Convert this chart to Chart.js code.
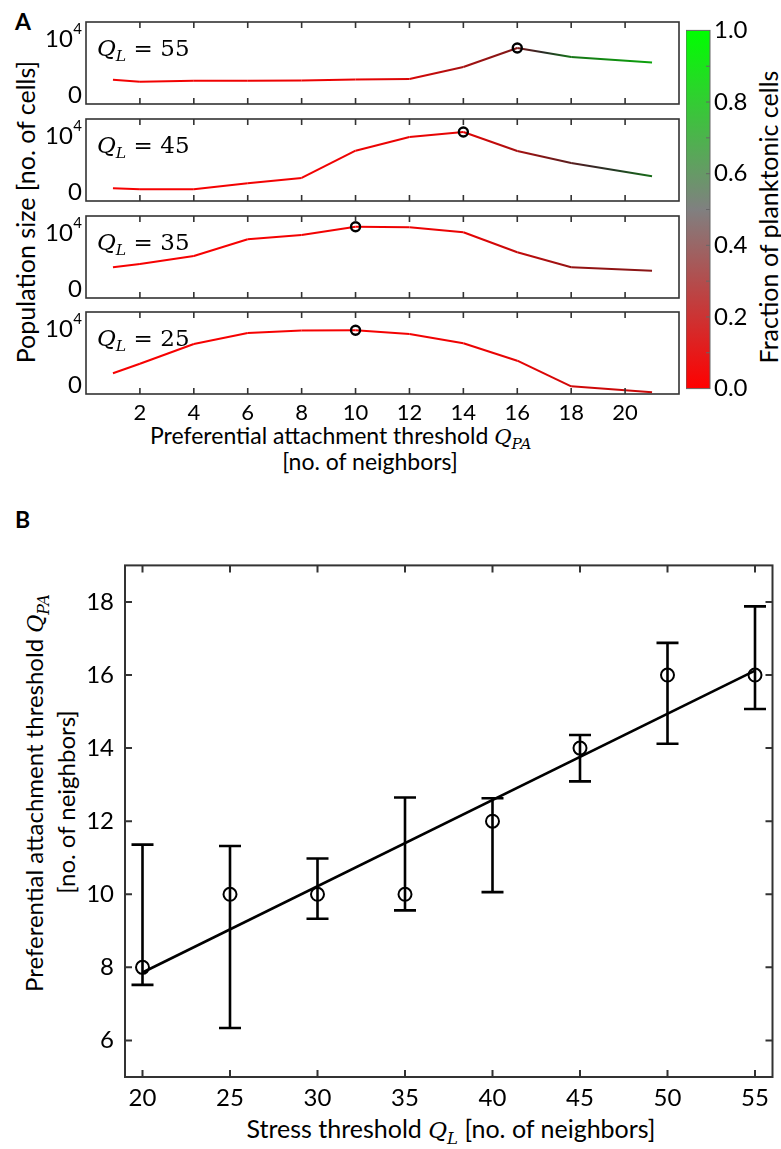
<!DOCTYPE html>
<html>
<head>
<meta charset="utf-8">
<script src="https://cdn.jsdelivr.net/npm/chart.js@4.4.1/dist/chart.umd.min.js"></script>
<style>
  body { margin: 0; width: 781px; height: 1149px; position: relative; overflow: hidden; background: #fff; font-family: Lato, sans-serif; color: #000; }
  canvas { position: absolute; }
  .t { position: absolute; white-space: nowrap; line-height: 1; font-size: 24px; }
  .c { transform: translate(-50%, -50%); }
  .r { transform: translate(-50%, -50%) rotate(-90deg); }
  .m { font-family: 'DejaVu Serif', serif; font-style: italic; font-size: 92%; }
  .s { font-size: 66%; position: relative; top: 0.35em; }
  .q { position: absolute; white-space: nowrap; line-height: 1; font-family: 'DejaVu Serif', serif; font-size: 23px; transform: translateY(-50%); }
  .q i { font-style: italic; }
  .q sub { font-size: 68%; vertical-align: baseline; position: relative; top: 0.35em; font-style: italic; }
</style>
</head>
<body>
<div class="t" style="left:15px;top:10px;font-size:23px;font-weight:bold">A</div>
<div class="t" style="left:15px;top:508px;font-size:23px;font-weight:bold">B</div>
<div class="t r" style="left:25px;top:212px;font-size:25px">Population size [no. of cells]</div>
<div class="t r" style="left:768px;top:217px;font-size:25px">Fraction of planktonic cells</div>
<div class="t" style="left:150px;top:424px;font-size:23px">Preferential attachment threshold <span class="m">Q</span><span class="m s">PA</span></div>
<div class="t c" style="left:370px;top:461px;font-size:23px">[no. of neighbors]</div>
<div class="t c" style="left:451px;top:1129px;font-size:25px">Stress threshold <span class="m">Q</span><span class="m s">L</span> [no. of neighbors]</div>
<div class="t r" style="left:35px;top:793px;font-size:24px">Preferential attachment threshold <span class="m">Q</span><span class="m s">PA</span></div>
<div class="t r" style="left:66px;top:802px;font-size:24px">[no. of neighbors]</div>
<script>
const FONT = 'Lato, "Open Sans", sans-serif';
Chart.defaults.font.family = FONT;
Chart.defaults.color = '#000';

// Panel A – populace v závislosti na Q_PA pro čtyři hodnoty Q_L
const QPA = [1, 2, 4, 6, 8, 10, 12, 14, 16, 18, 21];
const QL_A = [55, 45, 35, 25];
const pop55 = [2380, 2040, 2210, 2210, 2260, 2430, 2500, 4560, 7830, 6280, 5350];
const pop45 = [380, 210, 210, 1240, 2160, 6850, 9200, 10070, 6800, 4730, 2450];
const pop35 = [3480, 4050, 5420, 8290, 9030, 10460, 10360, 9500, 6060, 3480, 2890];
const pop25 = [1760, 3410, 6800, 8690, 9100, 9150, 8520, 6920, 3930, -480, -1510];
const frac55 = [0.02, 0.02, 0.02, 0.03, 0.03, 0.04, 0.08, 0.2, 0.3, 0.72, 0.85];
const frac45 = [0.01, 0.01, 0.01, 0.02, 0.02, 0.03, 0.04, 0.05, 0.2, 0.38, 0.7];
const frac35 = [0.01, 0.01, 0.01, 0.01, 0.02, 0.02, 0.03, 0.04, 0.13, 0.24, 0.27];
const frac25 = [0.01, 0.01, 0.01, 0.01, 0.01, 0.01, 0.02, 0.03, 0.05, 0.1, 0.12];
const peakQPA = [16, 14, 10, 10];
const popSeries = [pop55, pop45, pop35, pop25];
const fracSeries = [frac55, frac45, frac35, frac25];
const A_XTICKS = [2, 4, 6, 8, 10, 12, 14, 16, 18, 20];

// Colorbar
const CB_LABELS = [0, 0.2, 0.4, 0.6, 0.8, 1.0];
const CB_MARKS = [0.1, 0.2, 0.3, 0.4, 0.5, 0.6, 0.7, 0.8, 0.9];

// Panel B – optimální Q_PA vs Q_L
const QL_B = [20, 25, 30, 35, 40, 45, 50, 55];
const QPA_OPT = [8, 10, 10, 10, 12, 14, 16, 16];
const QPA_LO = [7.52, 6.34, 9.33, 9.56, 10.06, 13.09, 14.12, 15.07];
const QPA_HI = [11.36, 11.32, 10.98, 12.65, 12.63, 14.36, 16.88, 17.88];
const FIT_X = [20, 55];
const FIT_Y = [7.86, 16.12];
const B_XTICKS = [20, 25, 30, 35, 40, 45, 50, 55];
const B_YTICKS = [6, 8, 10, 12, 14, 16, 18];

// rozložení
const A_TOP = [22, 119, 216, 312];
const A_H = 82, A_LEFT = 86, A_RIGHT = 679;

function mix(a, b, t) { return a.map((v, i) => Math.round(v + (b[i] - v) * t)); }
// barva čáry: červená -> tmavá -> zelená
function lineColor(f) {
  const red = [250, 0, 0], mid = [40, 40, 40], green = [0, 215, 0];
  const c = f < 0.5 ? mix(red, mid, f / 0.5) : mix(mid, green, (f - 0.5) / 0.5);
  return `rgb(${c[0]},${c[1]},${c[2]})`;
}
function segGrad(sc, frac) {
  const g = sc.chart.ctx.createLinearGradient(sc.p0.x, sc.p0.y, sc.p1.x, sc.p1.y);
  const f0 = frac[sc.p0DataIndex], f1 = frac[sc.p1DataIndex];
  for (let k = 0; k <= 4; k++) g.addColorStop(k / 4, lineColor(f0 + (f1 - f0) * k / 4));
  return g;
}
const fixTicks = (arr) => (s) => { s.ticks = arr.map((v) => ({ value: v })); };

// rámeček os + ticky dovnitř
const frame = {
  id: 'frame',
  afterDraw(chart, args, o) {
    const { ctx, chartArea: a } = chart;
    ctx.save();
    ctx.strokeStyle = o.color || '#333';
    ctx.lineWidth = o.width || 1.5;
    ctx.strokeRect(a.left, a.top, a.right - a.left, a.bottom - a.top);
    ctx.beginPath();
    (o.xTicks || []).forEach((v) => {
      const p = chart.scales.x.getPixelForValue(v);
      ctx.moveTo(p, a.bottom); ctx.lineTo(p, a.bottom - o.len);
      ctx.moveTo(p, a.top); ctx.lineTo(p, a.top + o.len);
    });
    (o.yTicks || []).forEach((v) => {
      const p = chart.scales.y.getPixelForValue(v);
      if (!o.rightOnly) { ctx.moveTo(a.left, p); ctx.lineTo(a.left + o.len, p); }
      ctx.moveTo(a.right, p); ctx.lineTo(a.right - o.len, p);
    });
    ctx.stroke();
    ctx.restore();
  },
};

// popisky 0 a 10^4 na ose y (panel A)
const popTicks = {
  id: 'popTicks',
  afterDraw(chart) {
    const { ctx, scales: { y } } = chart;
    const xr = chart.chartArea.left - 4;
    ctx.save();
    ctx.fillStyle = '#000';
    ctx.textAlign = 'right';
    ctx.textBaseline = 'middle';
    ctx.font = `24px ${FONT}`;
    ctx.fillText('0', xr, y.getPixelForValue(0) + 2);
    const py = y.getPixelForValue(10000) + 4;
    ctx.font = `15px ${FONT}`;
    ctx.fillText('4', xr, py - 10);
    const w4 = ctx.measureText('4').width;
    ctx.font = `24px ${FONT}`;
    ctx.fillText('10', xr - w4 - 0.5, py);
    ctx.restore();
  },
};

QL_A.forEach((ql, i) => {
  const last = i === QL_A.length - 1;
  const pop = popSeries[i], frac = fracSeries[i];
  const padT = 8, padB = last ? 2 : 8, axisH = last ? 32 : 0;
  const left = 30, width = 660;
  const cv = document.createElement('canvas');
  cv.width = width;
  cv.height = padT + A_H + axisH + padB;
  cv.style.left = left + 'px';
  cv.style.top = (A_TOP[i] - padT) + 'px';
  document.body.appendChild(cv);

  new Chart(cv, {
    type: 'line',
    data: {
      datasets: [{
        data: QPA.map((x, k) => ({ x, y: pop[k] })),
        borderColor: '#f00',
        borderWidth: 2,
        segment: { borderColor: (sc) => segGrad(sc, frac) },
        pointRadius: (c) => (QPA[c.dataIndex] === peakQPA[i] ? 4.5 : 0),
        pointBorderColor: '#000',
        pointBackgroundColor: 'rgba(0,0,0,0)',
        pointBorderWidth: 2.4,
      }],
    },
    options: {
      responsive: false,
      animation: false,
      events: [],
      layout: { padding: { left: A_LEFT - left, right: left + width - A_RIGHT, top: padT, bottom: padB } },
      plugins: {
        legend: { display: false },
        tooltip: { enabled: false },
        frame: { color: '#333', width: 1.6, len: 6, xTicks: A_XTICKS },
      },
      scales: {
        x: {
          type: 'linear', min: 0, max: 22, display: last,
          afterBuildTicks: fixTicks(A_XTICKS),
          ticks: { font: { size: 22 }, padding: 6, maxRotation: 0 },
          grid: { display: false, drawTicks: false },
          border: { display: false },
          afterFit: (s) => { s.height = axisH; },
        },
        y: { min: -1800, max: 12300, display: false },
      },
    },
    plugins: [frame, popTicks],
  });

  const lab = document.createElement('div');
  lab.className = 'q';
  lab.style.left = '97px';
  lab.style.top = (A_TOP[i] + 26) + 'px';
  lab.innerHTML = `<i>Q</i><sub>L</sub><span style="margin:0 0.32em">=</span>${ql}`;
  document.body.appendChild(lab);
});

// Colorbar
(function () {
  const cv = document.createElement('canvas');
  cv.width = 95; cv.height = 395;
  cv.style.left = '686px'; cv.style.top = '12px';
  document.body.appendChild(cv);
  new Chart(cv, {
    type: 'bar',
    data: {
      labels: [''],
      datasets: [{
        data: [[0, 1]],
        borderWidth: 0,
        barPercentage: 1,
        categoryPercentage: 1,
        backgroundColor: (c) => {
          const a = c.chart.chartArea;
          if (!a) return '#f00';
          const g = c.chart.ctx.createLinearGradient(0, a.bottom, 0, a.top);
          g.addColorStop(0, 'rgb(255,0,0)');
          g.addColorStop(0.5, 'rgb(128,128,128)');
          g.addColorStop(1, 'rgb(0,255,0)');
          return g;
        },
      }],
    },
    options: {
      responsive: false,
      animation: false,
      events: [],
      layout: { padding: { top: 10, bottom: 10, left: 0, right: 0 } },
      plugins: {
        legend: { display: false },
        tooltip: { enabled: false },
        frame: { color: '#666', width: 1, len: 4, yTicks: CB_MARKS, rightOnly: true },
      },
      scales: {
        x: { display: false },
        y: {
          position: 'right', min: 0, max: 1,
          afterBuildTicks: fixTicks(CB_LABELS),
          ticks: { font: { size: 24 }, padding: 4, callback: (v) => Number(v).toFixed(1) },
          grid: { display: false, drawTicks: false },
          border: { display: false },
          afterFit: (s) => { s.width = 71; },
        },
      },
    },
    plugins: [frame],
  });
})();

// Panel B
const errorBars = {
  id: 'errorBars',
  afterDatasetsDraw(chart) {
    const { ctx, scales: { x, y } } = chart;
    ctx.save();
    ctx.strokeStyle = '#000';
    ctx.lineWidth = 2.6;
    ctx.beginPath();
    QL_B.forEach((q, i) => {
      const px = x.getPixelForValue(q);
      const lo = y.getPixelForValue(QPA_LO[i]), hi = y.getPixelForValue(QPA_HI[i]);
      ctx.moveTo(px, lo); ctx.lineTo(px, hi);
      ctx.moveTo(px - 11, lo); ctx.lineTo(px + 11, lo);
      ctx.moveTo(px - 11, hi); ctx.lineTo(px + 11, hi);
    });
    ctx.stroke();
    ctx.restore();
  },
};

(function () {
  const cv = document.createElement('canvas');
  cv.width = 781; cv.height = 609;
  cv.style.left = '0px'; cv.style.top = '540px';
  document.body.appendChild(cv);
  new Chart(cv, {
    type: 'scatter',
    data: {
      datasets: [
        {
          data: QL_B.map((x, i) => ({ x, y: QPA_OPT[i] })),
          pointRadius: 6.5,
          pointBorderWidth: 2,
          pointBorderColor: '#000',
          pointBackgroundColor: 'rgba(0,0,0,0)',
          showLine: false,
        },
        {
          type: 'line',
          data: FIT_X.map((x, i) => ({ x, y: FIT_Y[i] })),
          borderColor: '#000',
          borderWidth: 2.6,
          pointRadius: 0,
        },
      ],
    },
    options: {
      responsive: false,
      animation: false,
      events: [],
      layout: { padding: { left: 0, right: 4, top: 22, bottom: 0 } },
      plugins: {
        legend: { display: false },
        tooltip: { enabled: false },
        frame: { color: '#333', width: 2, len: 7, xTicks: B_XTICKS, yTicks: B_YTICKS },
      },
      scales: {
        x: {
          type: 'linear', min: 19, max: 56,
          afterBuildTicks: fixTicks(B_XTICKS),
          ticks: { font: { size: 24 }, padding: 7, maxRotation: 0 },
          grid: { display: false, drawTicks: false },
          border: { display: false },
          afterFit: (s) => { s.height = 72; },
        },
        y: {
          type: 'linear', min: 5, max: 19,
          afterBuildTicks: fixTicks(B_YTICKS),
          ticks: { font: { size: 24 }, padding: 11 },
          grid: { display: false, drawTicks: false },
          border: { display: false },
          afterFit: (s) => { s.width = 125; },
        },
      },
    },
    plugins: [frame, errorBars],
  });
})();
</script>
</body>
</html>
